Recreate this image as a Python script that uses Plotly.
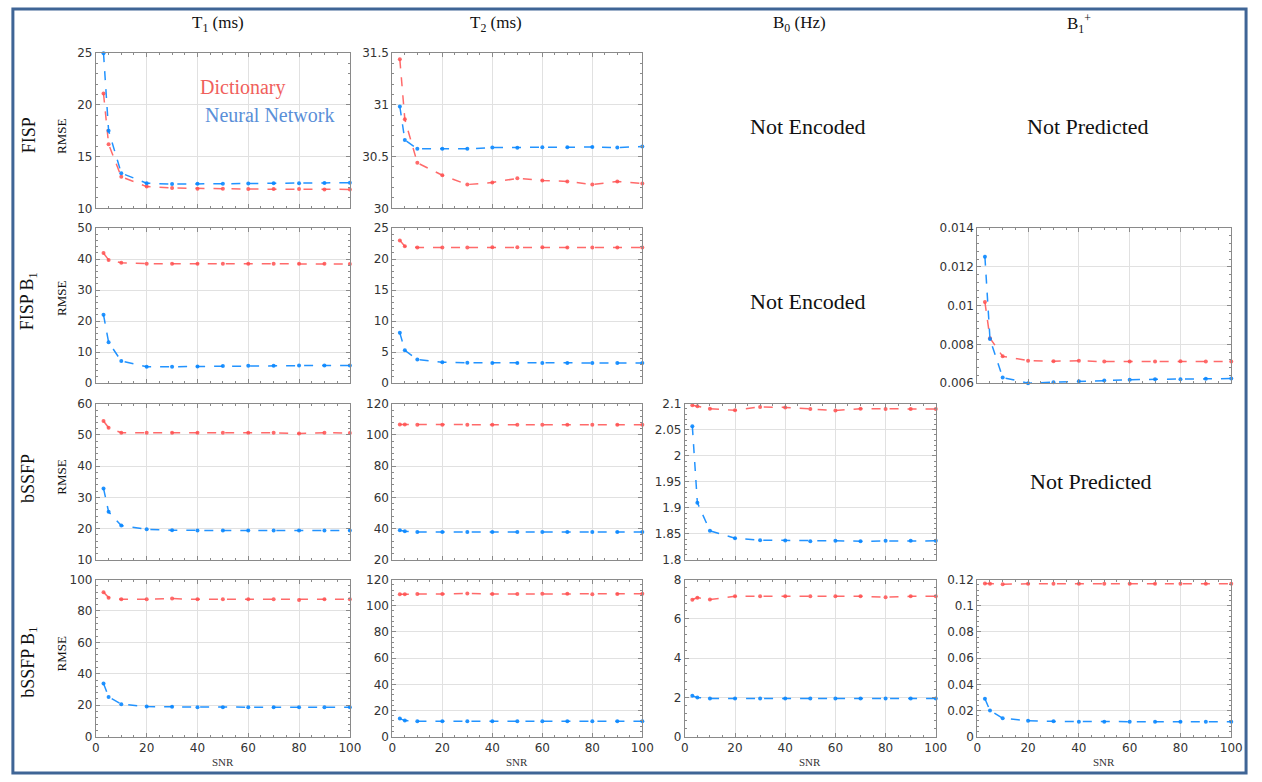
import plotly.graph_objects as go

W, H = 1262, 782

snr = [3, 5, 10, 20, 30, 40, 50, 60, 70, 80, 90, 100]

fisp_t1_dict = [21.1, 16.2, 13.05, 12.1, 11.96, 11.9, 11.9, 11.86, 11.86, 11.86, 11.83, 11.83]
fisp_t1_nn = [25.0, 17.5, 13.4, 12.43, 12.34, 12.37, 12.38, 12.4, 12.42, 12.42, 12.46, 12.47]
fisp_t2_dict = [31.44, 30.86, 30.44, 30.32, 30.23, 30.25, 30.29, 30.27, 30.26, 30.23, 30.26, 30.24]
fisp_t2_nn = [30.985, 30.66, 30.575, 30.575, 30.575, 30.587, 30.585, 30.59, 30.59, 30.594, 30.587, 30.597]

fispb1_t1_dict = [41.9, 39.7, 38.8, 38.5, 38.5, 38.5, 38.5, 38.5, 38.45, 38.45, 38.45, 38.4]
fispb1_t1_nn = [22.0, 13.2, 7.1, 5.3, 5.3, 5.4, 5.5, 5.6, 5.6, 5.7, 5.7, 5.7]
fispb1_t2_dict = [23.0, 22.05, 21.85, 21.85, 21.85, 21.9, 21.9, 21.9, 21.85, 21.85, 21.85, 21.85]
fispb1_t2_nn = [8.1, 5.3, 3.8, 3.36, 3.28, 3.26, 3.26, 3.26, 3.26, 3.26, 3.26, 3.26]
fispb1_b1_dict = [0.01018, 0.00832, 0.00738, 0.00716, 0.00713, 0.00715, 0.00711, 0.00711, 0.00711, 0.00713, 0.00711, 0.00711]
fispb1_b1_nn = [0.01252, 0.00827, 0.00629, 0.0060, 0.00605, 0.0061, 0.00613, 0.00617, 0.0062, 0.0062, 0.00622, 0.00624]

bssfp_t1_dict = [54.5, 52.3, 50.75, 50.75, 50.75, 50.7, 50.7, 50.7, 50.7, 50.5, 50.7, 50.65]
bssfp_t1_nn = [32.9, 25.4, 21.0, 19.8, 19.5, 19.4, 19.4, 19.4, 19.4, 19.4, 19.4, 19.4]
bssfp_t2_dict = [106.7, 106.7, 106.6, 106.5, 106.5, 106.5, 106.5, 106.5, 106.5, 106.5, 106.5, 106.5]
bssfp_t2_nn = [39.0, 38.3, 37.9, 37.9, 37.9, 37.9, 37.9, 37.9, 37.9, 37.9, 37.9, 37.9]
bssfp_b0_dict = [2.097, 2.095, 2.0905, 2.0874, 2.094, 2.093, 2.090, 2.087, 2.0905, 2.090, 2.090, 2.090]
bssfp_b0_nn = [2.057, 1.910, 1.856, 1.8416, 1.838, 1.8372, 1.836, 1.8366, 1.836, 1.8366, 1.8366, 1.8366]

bssfpb1_t1_dict = [92.0, 88.5, 87.4, 87.4, 87.9, 87.4, 87.4, 87.4, 87.4, 87.0, 87.4, 87.4]
bssfpb1_t1_nn = [33.9, 25.3, 20.7, 19.2, 19.0, 18.8, 18.8, 18.8, 18.8, 18.8, 18.8, 18.8]
bssfpb1_t2_dict = [108.7, 108.8, 108.9, 108.9, 109.4, 108.9, 108.9, 109.2, 109.2, 108.7, 108.9, 109.2]
bssfpb1_t2_nn = [13.8, 12.3, 11.8, 11.8, 11.8, 11.8, 11.8, 11.8, 11.8, 11.8, 11.8, 11.8]
bssfpb1_b0_dict = [6.97, 7.08, 6.98, 7.15, 7.15, 7.15, 7.15, 7.15, 7.15, 7.1, 7.15, 7.15]
bssfpb1_b0_nn = [2.08, 2.0, 1.95, 1.95, 1.95, 1.95, 1.95, 1.95, 1.95, 1.95, 1.95, 1.95]
bssfpb1_b1_dict = [0.117, 0.1168, 0.1165, 0.11675, 0.11675, 0.11675, 0.11675, 0.11675, 0.11675, 0.11675, 0.11675, 0.11675]
bssfpb1_b1_nn = [0.029, 0.020, 0.014, 0.01225, 0.0117, 0.0115, 0.0115, 0.0115, 0.0115, 0.0115, 0.0115, 0.0115]

col_titles = ["T<sub>1</sub> (ms)", "T<sub>2</sub> (ms)", "B<sub>0</sub> (Hz)", "B<sub>1</sub><sup>+</sup>"]
row_titles = ["FISP", "FISP B<sub>1</sub>", "bSSFP", "bSSFP B<sub>1</sub>"]

panels = [
    (0, 0, [10, 25], 5, fisp_t1_dict, fisp_t1_nn),
    (0, 1, [30, 31.5], 0.5, fisp_t2_dict, fisp_t2_nn),
    (1, 0, [0, 50], 10, fispb1_t1_dict, fispb1_t1_nn),
    (1, 1, [0, 25], 5, fispb1_t2_dict, fispb1_t2_nn),
    (1, 3, [0.006, 0.014], 0.002, fispb1_b1_dict, fispb1_b1_nn),
    (2, 0, [10, 60], 10, bssfp_t1_dict, bssfp_t1_nn),
    (2, 1, [20, 120], 20, bssfp_t2_dict, bssfp_t2_nn),
    (2, 2, [1.8, 2.1], 0.05, bssfp_b0_dict, bssfp_b0_nn),
    (3, 0, [0, 100], 20, bssfpb1_t1_dict, bssfpb1_t1_nn),
    (3, 1, [0, 120], 20, bssfpb1_t2_dict, bssfpb1_t2_nn),
    (3, 2, [0, 8], 2, bssfpb1_b0_dict, bssfpb1_b0_nn),
    (3, 3, [0, 0.12], 0.02, bssfpb1_b1_dict, bssfpb1_b1_nn),
]

col_px = [(93, 350), (393, 646), (689, 943), (985, 1242)]
row_px = [(47, 205), (225, 383), (404, 563), (583, 743)]

RED = "rgba(255,80,80,0.85)"
BLUE = "rgba(10,135,255,0.9)"
AX = "#8a8a8a"
TICKF = dict(family="DejaVu Sans", size=12, color="#333333")
SERIF = "Liberation Serif"

fig = go.Figure()
layout = dict(
    width=W, height=H, margin=dict(l=0, r=0, t=0, b=0), autosize=False,
    paper_bgcolor="white", plot_bgcolor="white", showlegend=False,
)


def px_x(x):
    return x / W


def px_y(y):
    return 1 - y / H


def note(text, x, y, size, color="#111", angle=0, family=SERIF):
    return dict(x=px_x(x), y=px_y(y), xref="paper", yref="paper", text=text,
                showarrow=False, xanchor="center", yanchor="middle", textangle=angle,
                font=dict(family=family, size=size, color=color))


annotations = []
for i, (r, c, yr, dt, dv, nv) in enumerate(panels):
    n = i + 1
    xa = "xaxis" if n == 1 else f"xaxis{n}"
    ya = "yaxis" if n == 1 else f"yaxis{n}"
    xr = "x" if n == 1 else f"x{n}"
    yr_ = "y" if n == 1 else f"y{n}"
    x0, x1 = col_px[c]
    y0, y1 = row_px[r]
    layout[xa] = dict(
        domain=[px_x(x0), px_x(x1)], anchor=yr_, range=[0, 100], dtick=20, tick0=0,
        showgrid=True, gridcolor="#e1e1e1", gridwidth=1, zeroline=False,
        showline=True, linecolor=AX, linewidth=1, mirror="allticks",
        ticks="inside", ticklen=4, tickcolor=AX, tickfont=TICKF,
        showticklabels=(r == 3),
        minor=dict(dtick=5, ticks="inside", ticklen=2, tickcolor=AX, showgrid=False),
    )
    layout[ya] = dict(
        domain=[px_y(y1), px_y(y0)], anchor=xr, range=yr, dtick=dt, tick0=yr[0],
        showgrid=True, gridcolor="#e1e1e1", gridwidth=1, zeroline=False,
        showline=True, linecolor=AX, linewidth=1, mirror="allticks",
        ticks="inside", ticklen=4, tickcolor=AX, tickfont=TICKF, tickformat="~g",
        minor=dict(dtick=dt / 5, ticks="inside", ticklen=2, tickcolor=AX, showgrid=False),
    )
    for vals, colr in ((dv, RED), (nv, BLUE)):
        fig.add_trace(go.Scatter(
            x=snr, y=vals, xaxis=xr, yaxis=yr_, mode="lines+markers",
            line=dict(color=colr, width=1.5, dash="dash"),
            marker=dict(color=colr, size=4), cliponaxis=False,
        ))
    if r == 3:
        annotations.append(note("SNR", (x0 + x1) / 2, 769, 11, "#333"))

col_cx = [217, 498, 805, 1088]
for t, cx in zip(col_titles, col_cx):
    annotations.append(note(t, cx, 17, 17))

row_cy = [131, 300, 480, 667]
rmse_cy = [132, 297, 479, 659]
for t, cy, ry in zip(row_titles, row_cy, rmse_cy):
    annotations.append(note(t, 25, cy, 18, angle=-90))
    annotations.append(note("RMSE", 58, ry, 13, angle=-90))

annotations.append(note("Dictionary", 242, 82, 20, "#f0605c"))
annotations.append(note("Neural Network", 269, 110, 20, "#5a8fd8"))

for t, cx, cy in [("Not Encoded", 813, 122), ("Not Predicted", 1097, 122),
                  ("Not Encoded", 813, 300), ("Not Predicted", 1100, 483)]:
    annotations.append(note(t, cx, cy, 22))

layout["annotations"] = annotations
layout["shapes"] = [dict(type="rect", xref="paper", yref="paper",
                         x0=px_x(9), x1=px_x(1257), y0=px_y(780), y1=px_y(2),
                         line=dict(color="#3f6596", width=3), fillcolor="rgba(0,0,0,0)")]

fig.update_layout(**layout)
fig.write_html("out.html")
